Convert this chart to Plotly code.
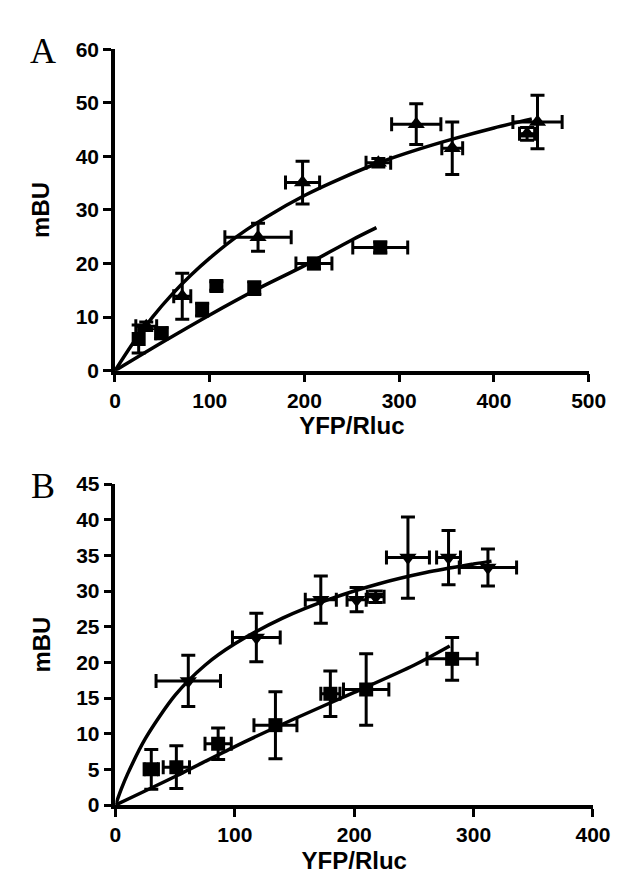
import plotly.graph_objects as go

# ---------------- Panel A data ----------------
a_tri_x = [33, 71, 151, 198, 278, 318, 356, 435, 446]
a_tri_y = [8.3, 13.9, 24.9, 35.1, 38.8, 46.0, 41.5, 44.2, 46.4]
a_tri_xerr = [11, 9, 35, 18, 13, 26, 11, 8, 26]
a_tri_yerr = [0.8, 4.3, 2.6, 4.0, 0.8, 3.8, 4.9, 1.2, 5.0]

a_sq_x = [25, 49, 92, 107, 147, 210, 280]
a_sq_y = [5.9, 7.0, 11.4, 15.8, 15.4, 20.0, 23.0]
a_sq_xerr = [4, 6, 5, 3, 4, 19, 29]
a_sq_yerr = [2.6, 1.0, 1.2, 0.8, 1.2, 1.0, 1.0]

a_fit1_x = [0, 20, 40, 60, 80, 100, 130, 160, 200, 240, 280, 320, 360, 400, 440]
a_fit1_y = [0, 5.4, 10.1, 14.2, 17.8, 21.0, 25.2, 28.7, 32.7, 36.0, 38.9, 41.3, 43.4, 45.3, 47.0]

a_fit2_x = [0, 50, 100, 150, 200, 250, 276]
a_fit2_y = [0, 5.3, 10.4, 15.2, 19.6, 24.4, 26.7]

# ---------------- Panel B data ----------------
b_tri_x = [61, 118, 172, 202, 218, 245, 279, 312]
b_tri_y = [17.4, 23.5, 28.8, 28.8, 29.2, 34.7, 34.7, 33.3]
b_tri_xerr = [27, 20, 13, 8, 7, 18, 10, 24]
b_tri_yerr = [3.6, 3.4, 3.3, 1.7, 0.8, 5.7, 3.8, 2.6]

b_sq_x = [30, 51, 86, 134, 180, 210, 282]
b_sq_y = [5.0, 5.3, 8.6, 11.2, 15.6, 16.2, 20.5]
b_sq_xerr = [6, 11, 11, 18, 8, 19, 21]
b_sq_yerr = [2.8, 3.0, 2.2, 4.7, 3.2, 5.0, 3.0]

b_fit1_x = [0, 5, 10, 25, 50, 75, 100, 140, 180, 220, 260, 300, 315]
b_fit1_y = [0, 2.3, 4.3, 9.3, 15.4, 19.6, 22.6, 26.2, 28.9, 31.0, 32.6, 33.8, 34.2]

b_fit2_x = [0, 50, 100, 150, 200, 250, 280]
b_fit2_y = [0, 4.0, 8.2, 12.1, 15.8, 19.6, 22.3]

a_xticks = [0, 100, 200, 300, 400, 500]
a_yticks = [0, 10, 20, 30, 40, 50, 60]
b_xticks = [0, 100, 200, 300, 400]
b_yticks = [0, 5, 10, 15, 20, 25, 30, 35, 40, 45]

BLACK = "#000000"
LW = 3.5


def err(arr):
    return dict(type="data", array=arr, visible=True, color=BLACK,
                thickness=3, width=7)


def bold(vals):
    return ["<b>%d</b>" % v for v in vals]


fig = go.Figure()


def add_panel(xa, ya, fit1x, fit1y, fit2x, fit2y, tx, ty, txe, tye, tsym,
              sx, sy, sxe, sye):
    fig.add_trace(go.Scatter(x=fit1x, y=fit1y, mode="lines",
                             line=dict(color=BLACK, width=LW, shape="spline",
                                       smoothing=0.8),
                             xaxis=xa, yaxis=ya, showlegend=False,
                             hoverinfo="skip"))
    fig.add_trace(go.Scatter(x=fit2x, y=fit2y, mode="lines",
                             line=dict(color=BLACK, width=LW, shape="spline",
                                       smoothing=0.8),
                             xaxis=xa, yaxis=ya, showlegend=False,
                             hoverinfo="skip"))
    fig.add_trace(go.Scatter(x=tx, y=ty, mode="markers",
                             marker=dict(symbol=tsym, size=15, color=BLACK),
                             error_x=err(txe), error_y=err(tye),
                             xaxis=xa, yaxis=ya, showlegend=False))
    fig.add_trace(go.Scatter(x=sx, y=sy, mode="markers",
                             marker=dict(symbol="square", size=14, color=BLACK),
                             error_x=err(sxe), error_y=err(sye),
                             xaxis=xa, yaxis=ya, showlegend=False))


add_panel("x", "y", a_fit1_x, a_fit1_y, a_fit2_x, a_fit2_y,
          a_tri_x, a_tri_y, a_tri_xerr, a_tri_yerr, "triangle-up",
          a_sq_x, a_sq_y, a_sq_xerr, a_sq_yerr)
add_panel("x2", "y2", b_fit1_x, b_fit1_y, b_fit2_x, b_fit2_y,
          b_tri_x, b_tri_y, b_tri_xerr, b_tri_yerr, "triangle-down",
          b_sq_x, b_sq_y, b_sq_xerr, b_sq_yerr)

tickfont = dict(family="Liberation Sans, Arial, sans-serif", size=21,
                color=BLACK)
titlefont = dict(family="Liberation Sans, Arial, sans-serif", size=24,
                 color=BLACK)

common = dict(showline=True, linecolor=BLACK, linewidth=3.5, ticks="outside",
              ticklen=8, tickwidth=3, tickcolor=BLACK, showgrid=False,
              zeroline=False, tickfont=tickfont, fixedrange=True)

W, H = 628, 884

fig.update_layout(
    width=W, height=H,
    margin=dict(l=0, r=0, t=0, b=0),
    paper_bgcolor="white", plot_bgcolor="white",
    xaxis=dict(domain=[105 / W, 597.5 / W], range=[0, 500],
               tickvals=a_xticks, ticktext=bold(a_xticks), anchor="y",
               title=dict(text="<b>YFP/Rluc</b>", font=titlefont, standoff=6),
               **common),
    yaxis=dict(domain=[1 - 360 / H, 1 - 30 / H], range=[0, 60],
               tickvals=a_yticks, ticktext=bold(a_yticks), anchor="x",
               title=dict(text="<b>mBU</b>", font=titlefont, standoff=20),
               **common),
    xaxis2=dict(domain=[105.5 / W, 602 / W], range=[0, 400],
                tickvals=b_xticks, ticktext=bold(b_xticks), anchor="y2",
                title=dict(text="<b>YFP/Rluc</b>", font=titlefont, standoff=8),
                **common),
    yaxis2=dict(domain=[1 - 806 / H, 1 - 476.5 / H], range=[0, 45],
                tickvals=b_yticks, ticktext=bold(b_yticks), anchor="x2",
                title=dict(text="<b>mBU</b>", font=titlefont, standoff=20),
                **common),
    annotations=[
        dict(text="A", x=30 / W, y=1 - 32 / H, xref="paper", yref="paper",
             xanchor="center", yanchor="middle", showarrow=False,
             font=dict(family="Liberation Serif, Times New Roman, serif",
                       size=36, color=BLACK)),
        dict(text="B", x=30 / W, y=1 - 478 / H, xref="paper", yref="paper",
             xanchor="center", yanchor="middle", showarrow=False,
             font=dict(family="Liberation Serif, Times New Roman, serif",
                       size=36, color=BLACK)),
    ],
)

fig.write_html("out.html")
